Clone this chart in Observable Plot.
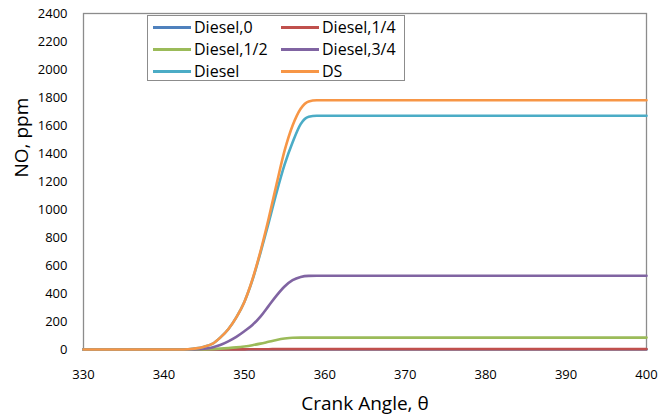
<!DOCTYPE html>
<html><head><meta charset="utf-8">
<script src="https://cdn.jsdelivr.net/npm/d3@7"></script>
<script src="https://cdn.jsdelivr.net/npm/@observablehq/plot@0.6"></script>
<style>
body{margin:0;background:#fff;font-family:"Open Sans",sans-serif;}
#wrap{position:relative;width:670px;height:418px;}
#legend{position:absolute;left:147px;top:15px;width:258px;height:66px;border:1px solid #8c8c8c;background:#fff;box-sizing:border-box;}
.item{position:absolute;display:flex;align-items:center;height:22px;font-size:16px;color:#000;white-space:nowrap;}
.swatch{width:38px;height:3px;margin-right:3px;}
</style></head><body><div id="wrap"><div id="legend"></div></div>
<script>
const angle = [330,340,342,343,344,345,346,347,348,349,350,351,352,353,354,355,356,357,358,359,360,370,380,390,400];
const diesel0  = [0,0,0,0,0,0,0,0,0,0,0,0,0,0,0,0,0,0,0,0,0,0,0,0,0];
const diesel14 = [0,0,0,0,0,0,0,0,1,1,1,2,2,2,3,3,3,3,3,3,3,3,3,3,3];
const diesel12 = [0,0,0,0,0,1,3,6,10,15,22,31,42,55,68,78,84,85,85,85,85,85,85,85,85];
const diesel34 = [0,0,0,0,2,6,15,32,58,90,130,175,235,310,385,450,495,518,526,527,527,527,527,527,527];
const diesel   = [0,0,0,2,8,20,40,85,145,230,340,495,690,900,1120,1320,1480,1610,1662,1670,1670,1670,1670,1670,1670];
const ds       = [0,0,0,2,8,20,40,85,145,230,340,500,700,930,1180,1420,1600,1720,1772,1780,1780,1780,1780,1780,1780];
const seriesNames = ["Diesel,0","Diesel,1/4","Diesel,1/2","Diesel,3/4","Diesel","DS"];
const seriesValues = [diesel0, diesel14, diesel12, diesel34, diesel, ds];
const colors = ["#4F81BD","#C0504D","#9BBB59","#8064A2","#4BACC6","#F79646"];
const xTicks = [330,340,350,360,370,380,390,400];
const yTicks = [0,200,400,600,800,1000,1200,1400,1600,1800,2000,2200,2400];

const lineMarks = seriesNames.map((name, k) => Plot.line(
  angle.map((a, i) => ({angle: a, value: seriesValues[k][i]})),
  {x: "angle", y: "value", stroke: colors[k], strokeWidth: 2.6, curve: "monotone-x"}
));

const chart = Plot.plot({
  width: 670, height: 418,
  marginLeft: 83, marginRight: 24, marginTop: 13, marginBottom: 69,
  style: {fontFamily: "'Open Sans', sans-serif", fontSize: "13px", color: "#000", background: "#fff"},
  x: {domain: [330, 400]},
  y: {domain: [0, 2400]},
  marks: [
    Plot.frame({stroke: "#8c8c8c", strokeWidth: 1.3}),
    ...lineMarks,
    Plot.axisX({ticks: xTicks, tickSize: 0, tickPadding: 20, label: null, fontSize: 13, tickFormat: d => String(d)}),
    Plot.axisY({ticks: yTicks, tickSize: 0, tickPadding: 16, label: null, fontSize: 13, tickFormat: d => String(d)}),
    Plot.text(["Crank Angle, θ"], {frameAnchor: "bottom", dy: 54, fontSize: 19, lineAnchor: "middle"}),
    Plot.text(["NO, ppm"], {frameAnchor: "left", dx: -62, dy: -4, rotate: -90, fontSize: 19, lineAnchor: "middle"})
  ]
});
const wrap = document.getElementById("wrap");
wrap.insertBefore(chart, wrap.firstChild);

const legend = document.getElementById("legend");
const pos = [[5,0],[133,0],[5,22],[133,22],[5,44],[133,44]];
seriesNames.forEach((name, k) => {
  const it = document.createElement("div");
  it.className = "item";
  it.style.left = pos[k][0] + "px";
  it.style.top = pos[k][1] + "px";
  it.innerHTML = `<span class="swatch" style="background:${colors[k]}"></span><span>${name}</span>`;
  legend.appendChild(it);
});
</script>
</body></html>
